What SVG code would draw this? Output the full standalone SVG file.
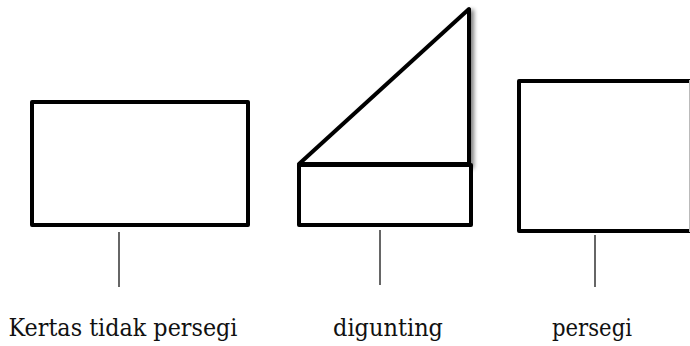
<svg xmlns="http://www.w3.org/2000/svg" width="690" height="346" viewBox="0 0 690 346">
<defs>
<style>
.shape{fill:#fff;stroke:#000;stroke-width:4;stroke-linejoin:round}
.conn{stroke:#333;stroke-width:1.5}
.lbl{font-family:"DejaVu Serif",serif;font-size:24px;fill:#111;text-anchor:middle}
</style>
<filter id="sh" x="-20%" y="-20%" width="150%" height="150%">
<feGaussianBlur in="SourceAlpha" stdDeviation="2"/>
<feOffset dx="3" dy="2"/>
<feComponentTransfer><feFuncA type="linear" slope="0.5"/></feComponentTransfer>
<feMerge><feMergeNode/><feMergeNode in="SourceGraphic"/></feMerge>
</filter>
</defs>
<rect width="690" height="346" fill="#fff"/>
<g id="kertas">
<rect class="shape" x="32" y="102" width="216" height="123"/>
<text class="lbl" x="123" y="336" textLength="229" lengthAdjust="spacingAndGlyphs">Kertas tidak persegi</text>
</g>
<g id="digunting">
<polygon class="shape" points="299,164 469,9 469,165" filter="url(#sh)"/>
<rect class="shape" x="299" y="165" width="172" height="60"/>
<line x1="299" y1="164.5" x2="471" y2="164.5" stroke="#000" stroke-width="5"/>
<text class="lbl" x="388" y="336" textLength="110" lengthAdjust="spacingAndGlyphs">digunting</text>
</g>
<g id="persegi">
<rect class="shape" x="519" y="81" width="180" height="150"/>
<line x1="689.5" y1="80" x2="689.5" y2="232" stroke="#bbb" stroke-width="1"/>
<text class="lbl" x="592" y="336" textLength="80" lengthAdjust="spacingAndGlyphs">persegi</text>
</g>
<g id="connectors">
<line class="conn" x1="119" y1="232" x2="119" y2="287"/>
<line class="conn" x1="380" y1="230" x2="380" y2="285"/>
<line class="conn" x1="595" y1="235" x2="595" y2="287"/>
</g>
</svg>
